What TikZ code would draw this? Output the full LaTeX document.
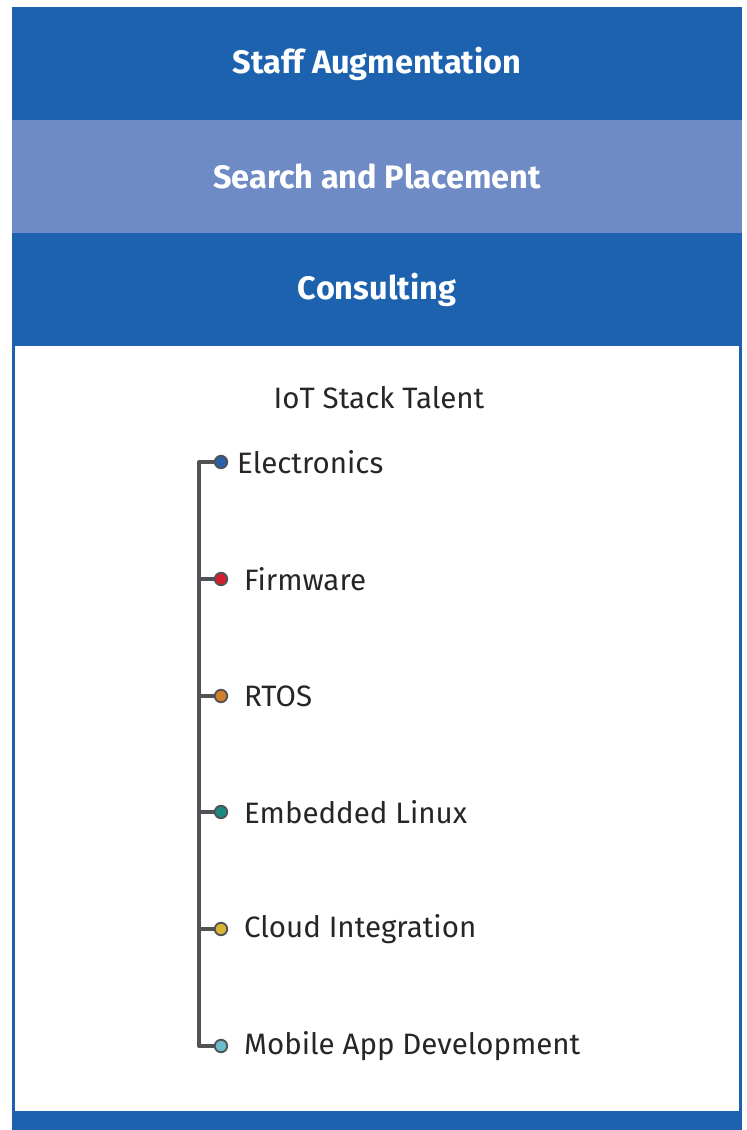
\documentclass[tikz,border=0pt]{standalone}
\usepackage{fontspec}
\setmainfont{Fira Sans}
\usetikzlibrary{positioning}
\definecolor{bandblue}{RGB}{28,98,175}
\definecolor{bandlight}{RGB}{111,139,198}
\definecolor{stemgray}{RGB}{80,82,86}
\definecolor{dotblue}{RGB}{42,95,170}
\definecolor{dotred}{RGB}{211,32,47}
\definecolor{dotorange}{RGB}{208,128,40}
\definecolor{dotteal}{RGB}{26,138,128}
\definecolor{dotyellow}{RGB}{216,180,50}
\definecolor{dotcyan}{RGB}{107,188,203}
\tikzset{
  band/.style={minimum width=730pt, minimum height=113pt, inner sep=0pt,
    text=white, font=\fontsize{32.5}{36}\selectfont\bfseries},
  dot/.style={circle, draw=stemgray, line width=1.8pt, minimum size=12.5pt, inner sep=0pt},
  item/.style={anchor=west, inner sep=0pt, text=black!85, font=\fontsize{29.5}{34}\selectfont},
  stem/.style={draw=stemgray, line width=4pt}
}
\begin{document}
\begin{tikzpicture}[x=1pt, y=-1pt, line join=round, line cap=butt]
  \useasboundingbox (0,0) rectangle (747,1130);
  \fill[white] (0,0) rectangle (747,1130);
  % bands
  \node[band, fill=bandblue] (staff) at (377,63.5) {Staff Augmentation};
  \node[band, fill=bandlight] (search) at (377,176.5) {Search and Placement};
  \node[band, fill=bandblue] (consult) at (377,289.5) {Consulting};
  \draw[bandblue, line width=3pt] (13.5,346) -- (13.5,1111) (740.5,346) -- (740.5,1111);
  \fill[bandblue] (12,1111) rectangle (742,1130);
  \node[font=\fontsize{29.5}{34}\selectfont, text=black!85] (talent) at (379,398) {IoT Stack Talent};
  % items
  \foreach \n/\y/\c/\x/\t in {1/462/dotblue/237/Electronics, 2/579/dotred/244/Firmware,
      3/696/dotorange/244/RTOS, 4/812/dotteal/244/Embedded Linux,
      5/929/dotyellow/244/Cloud Integration, 6/1046/dotcyan/244/Mobile App Development}
    {\node[dot, fill=\c] (d\n) at (221,\y) {};
     \node[item] (t\n) at (\x,\y) {\t};
     \coordinate (s\n) at (199,\y);}
  \draw[stem] (d1.west) -- (s1) -- (s6) -- (d6.west);
  \foreach \n in {2,...,5}
    {\draw[stem] (s\n) -- (d\n.west);}
\end{tikzpicture}
\end{document}
